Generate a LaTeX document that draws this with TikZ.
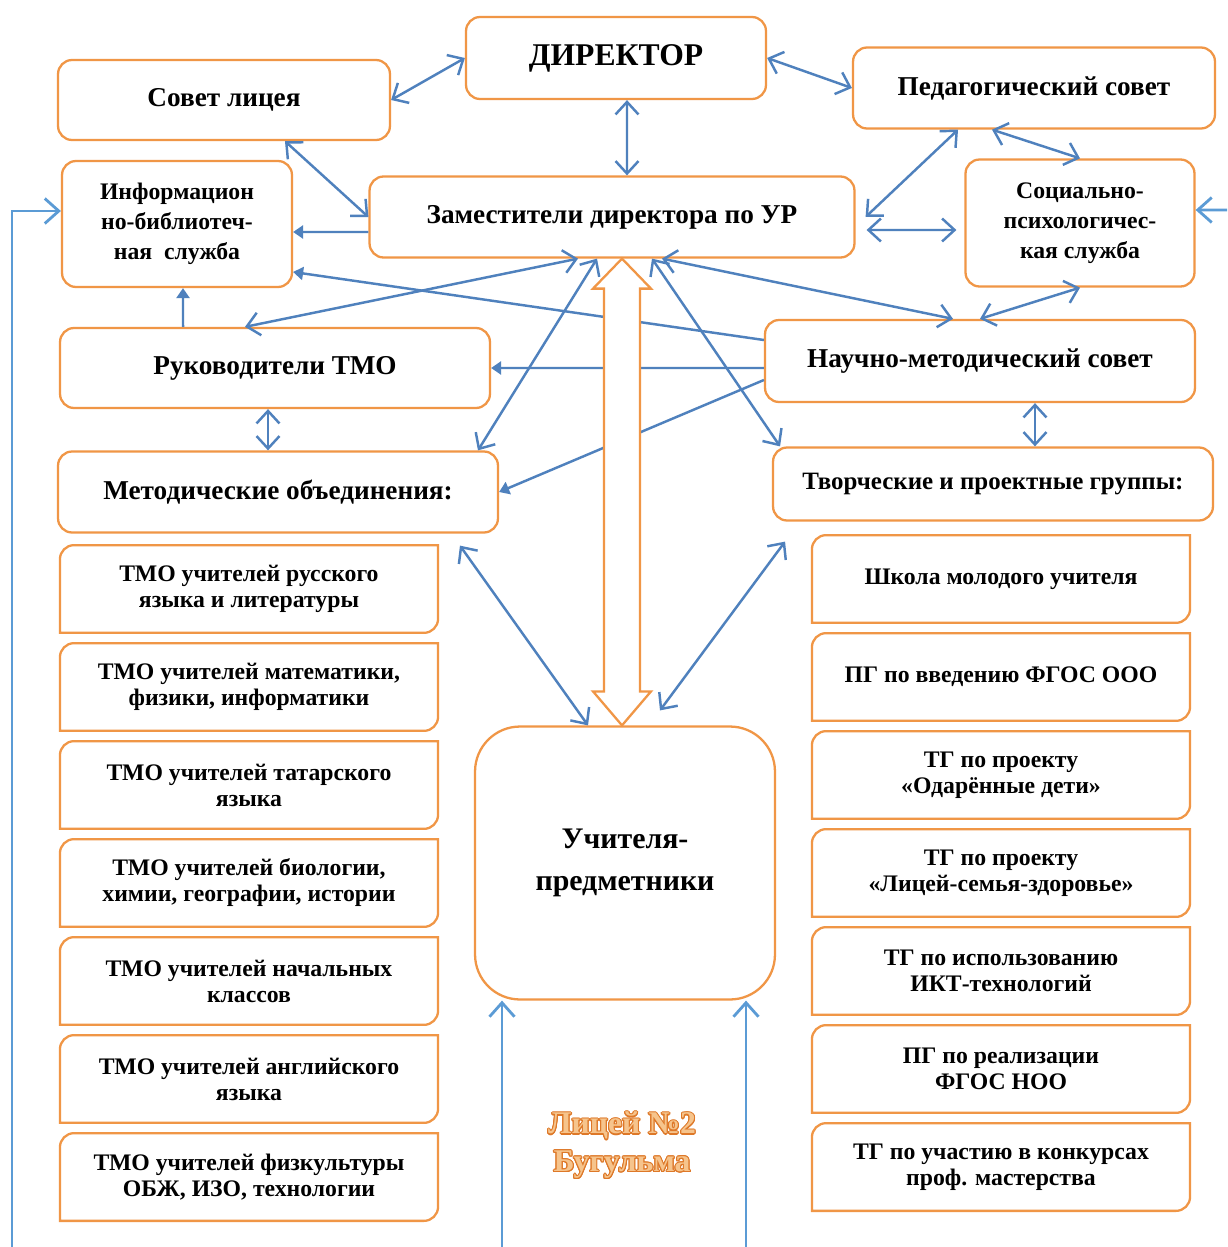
\documentclass[tikz,border=0pt]{standalone}
\usepackage{fontspec}
\setmainfont{Liberation Serif}
\usepackage[copies]{contour}
\contourlength{0.6pt}
\definecolor{boxorange}{RGB}{240, 150, 70}
\definecolor{linkblue}{RGB}{79, 129, 189}
\definecolor{outerblue}{RGB}{91, 155, 213}
\definecolor{wordart}{RGB}{246, 196, 140}
\definecolor{wordartedge}{RGB}{222, 120, 40}
\usetikzlibrary{arrows.meta, calc}
\tikzset{
  orgbox/.style={draw=boxorange, line width=1.3pt, rounded corners=8pt, fill=white, align=center, inner sep=2pt, font=\fontsize{15.5}{19}\selectfont\bfseries},
  smallbox/.style={orgbox, font=\fontsize{13.5}{17}\selectfont\bfseries},
  listbox/.style={align=center, inner sep=0pt, minimum width=7.55cm, minimum height=1.74cm, font=\fontsize{13.5}{14.8}\selectfont\bfseries},
  link/.style={draw=linkblue, line width=1.4pt, {Straight Barb[length=2.5mm,width=4.6mm]}-{Straight Barb[length=2.5mm,width=4.6mm]}},
  feed/.style={draw=linkblue, line width=1.4pt, -{Triangle[length=2mm,width=2.6mm]}},
  outer/.style={draw=outerblue, line width=1.6pt, -{Straight Barb[length=2.8mm,width=5mm]}},
  hollow/.style={draw=boxorange, line width=1.3pt, fill=white, line join=miter}
}

\begin{document}
\begin{tikzpicture}[x=0.02cm, y=-0.02cm]
  \path[use as bounding box, fill=white] (0, 0) rectangle (1227, 1247);

  % Administration
  \node[orgbox, minimum width=6cm, minimum height=1.64cm, font=\fontsize{18}{20}\selectfont\bfseries] (director) at (616, 58) {ДИРЕКТОР};
  \node[orgbox, minimum width=6.64cm, minimum height=1.6cm] (council) at (224, 100) {Совет лицея};
  \node[orgbox, minimum width=7.24cm, minimum height=1.62cm] (pedsovet) at (1034, 88) {Педагогический совет};
  \node[smallbox, minimum width=4.6cm, minimum height=2.52cm] (library) at (177, 224) {Информацион\\но-библиотеч-\\ная\ \ служба};
  \node[orgbox, minimum width=9.7cm, minimum height=1.62cm] (deputies) at (612, 217) {Заместители директора по УР};
  \node[smallbox, minimum width=4.58cm, minimum height=2.54cm] (social) at (1080, 223) {Социально-\\психологичес-\\кая служба};
  \node[orgbox, minimum width=8.6cm, minimum height=1.6cm] (tmoheads) at (275, 368) {Руководители ТМО};
  \node[orgbox, minimum width=8.6cm, minimum height=1.64cm] (nms) at (980, 361) {Научно-методический совет};
  \node[orgbox, minimum width=8.8cm, minimum height=1.62cm] (metod) at (278, 492) {Методические объединения:};
  \node[orgbox, minimum width=8.8cm, minimum height=1.46cm, font=\fontsize{14.2}{17}\selectfont\bfseries] (creative) at (993, 484) {Творческие и проектные группы:};
  \node[orgbox, rounded corners=0.9cm, minimum width=6cm, minimum height=5.46cm, font=\fontsize{17}{24}\selectfont\bfseries] (teachers) at (625, 863) {Учителя-\\предметники};

  % Methodical associations
  \node[listbox] (tmo1) at (249, 589) {ТМО учителей русского\\языка и литературы};
  \node[listbox] (tmo2) at (249, 687) {ТМО учителей математики,\\физики, информатики};
  \node[listbox] (tmo3) at (249, 785) {ТМО учителей татарского\\языка};
  \node[listbox] (tmo4) at (249, 883) {ТМО учителей биологии,\\химии, географии, истории};
  \node[listbox] (tmo5) at (249, 981) {ТМО учителей начальных\\классов};
  \node[listbox] (tmo6) at (249, 1079) {ТМО учителей английского\\языка};
  \node[listbox] (tmo7) at (249, 1177) {ТМО учителей физкультуры\\ОБЖ, ИЗО, технологии};

  % Creative and project groups
  \node[listbox] (grp1) at (1001, 579) {Школа молодого учителя};
  \node[listbox] (grp2) at (1001, 677) {ПГ по введению ФГОС ООО};
  \node[listbox] (grp3) at (1001, 775) {ТГ по проекту\\«Одарённые дети»};
  \node[listbox] (grp4) at (1001, 873) {ТГ по проекту\\«Лицей-семья-здоровье»};
  \node[listbox] (grp5) at (1001, 971) {ТГ по использованию\\ИКТ-технологий};
  \node[listbox] (grp6) at (1001, 1069) {ПГ по реализации\\ФГОС НОО};
  \node[listbox] (grp7) at (1001, 1167) {ТГ по участию в конкурсах\\проф. мастерства};

  \foreach \n in {tmo1, tmo2, tmo3, tmo4, tmo5, tmo6, tmo7, grp1, grp2, grp3, grp4, grp5, grp6, grp7}
    \draw[draw=boxorange, line width=1.3pt] (\n.west) [rounded corners=8pt] |- (\n.north) [sharp corners] -| (\n.east) [rounded corners=8pt] |- (\n.south) [sharp corners] -| (\n.west);

  \node[align=center, font=\fontsize{18}{21.6}\selectfont\bfseries, text=wordart] (lyceum) at (622, 1146) {\contour{wordartedge}{Лицей №2}\\\contour{wordartedge}{Бугульма}};

  % Two-way links
  \draw[link] (director.west) -- (council.east);
  \draw[link] (director.east) -- (pedsovet.west);
  \draw[link] ([xshift=0.22cm]director.south) -- ([xshift=0.3cm]deputies.north);
  \draw[link] ([xshift=1.22cm]council.south) -- (deputies.west);
  \draw[link] ([xshift=-1.52cm]pedsovet.south) -- ([xshift=0.2cm]deputies.east);
  \draw[link] ([xshift=-0.84cm]pedsovet.south) -- (social.north);
  \draw[link] ([xshift=0.22cm, yshift=-0.26cm]deputies.east) -- ([xshift=-0.16cm, yshift=-0.14cm]social.west);
  \draw[link] (social.south) -- (nms.north);
  \draw[link] ([xshift=-0.68cm]deputies.south) -- ([xshift=-0.6cm]tmoheads.north);
  \draw[link] ([xshift=-0.3cm]deputies.south) -- ([xshift=4cm]metod.north);
  \draw[link] ([xshift=1cm]deputies.south) -- ([xshift=-0.54cm]nms.north);
  \draw[link] ([xshift=0.8cm]deputies.south) -- ([xshift=-4.26cm]creative.north);
  \draw[link] ([xshift=-0.14cm]tmoheads.south) -- ([xshift=-0.14cm]tmoheads.south |- metod.north);
  \draw[link] ([xshift=1.1cm]nms.south) -- ([xshift=1.1cm]nms.south |- creative.north);
  \draw[link] ([xshift=3.64cm, yshift=-0.24cm]metod.south) -- ([xshift=-0.74cm]teachers.north);
  \draw[link] ([xshift=-4.16cm, yshift=-0.4cm]creative.south) -- ([xshift=0.7cm, yshift=0.3cm]teachers.north);

  % One-way links
  \draw[feed] ([yshift=-0.3cm]deputies.west) -- ([yshift=-0.16cm]library.east);
  \draw[feed] ([xshift=-1.84cm]tmoheads.north) -- ([xshift=0.12cm]library.south);
  \draw[feed] ([yshift=0.42cm]nms.west) -- ([yshift=-0.96cm]library.east);
  \draw[feed] ([yshift=-0.14cm]nms.west) -- (tmoheads.east);
  \draw[feed] ([yshift=-0.38cm]nms.west) -- (metod.east);

  % Hollow double arrow
  \coordinate (uptip) at ([xshift=0.2cm]deputies.south);
  \coordinate (downtip) at ([xshift=-0.06cm]teachers.north);
  \draw[hollow] (uptip) -- ($(uptip)+(29,30)$) -- ($(uptip)+(18,30)$) -- ($(downtip)+(18,-34)$) -- ($(downtip)+(29,-34)$) -- (downtip) -- ($(downtip)+(-29,-34)$) -- ($(downtip)+(-18,-34)$) -- ($(uptip)+(-18,30)$) -- ($(uptip)+(-29,30)$) -- cycle;

  % Lines from the edge
  \coordinate (leftfoot) at (12, 1247);
  \coordinate (rightedge) at (1227, 210);
  \coordinate (footA) at (502, 1247);
  \coordinate (footB) at (746, 1247);
  \draw[outer] (leftfoot) |- ([yshift=0.26cm]library.west);
  \draw[outer] (rightedge) -- ([yshift=0.26cm]social.east);
  \draw[outer] (footA) -- (footA |- teachers.south);
  \draw[outer] (footB) -- (footB |- teachers.south);
\end{tikzpicture}
\end{document}
